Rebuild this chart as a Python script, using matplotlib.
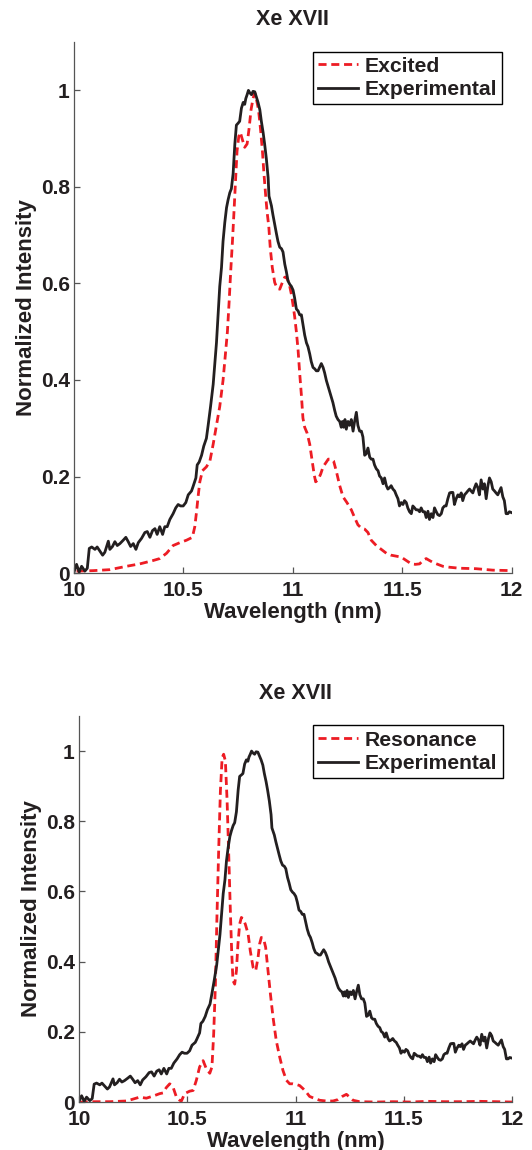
import matplotlib
matplotlib.use('Agg')
import matplotlib.pyplot as plt
import numpy as np

plt.rcParams['font.family'] = ['Liberation Sans', 'DejaVu Sans']
plt.rcParams['font.weight'] = 'bold'
plt.rcParams['axes.labelweight'] = 'bold'
plt.rcParams['axes.titleweight'] = 'bold'

# measured spectrum (same in both panels)
wl_exp = [10.000, 10.012, 10.024, 10.035, 10.050, 10.061, 10.070, 10.081, 10.096, 10.106,
          10.119, 10.131, 10.141, 10.157, 10.164, 10.176, 10.187, 10.198, 10.210, 10.225,
          10.237, 10.248, 10.259, 10.271, 10.283, 10.294, 10.309, 10.324, 10.335, 10.347,
          10.359, 10.370, 10.380, 10.392, 10.405, 10.415, 10.426, 10.438, 10.453, 10.465,
          10.476, 10.487, 10.499, 10.511, 10.522, 10.537, 10.544, 10.557, 10.563, 10.572,
          10.583, 10.593, 10.605, 10.613, 10.624, 10.636, 10.643, 10.651, 10.659, 10.666,
          10.674, 10.681, 10.689, 10.697, 10.704, 10.712, 10.719, 10.727, 10.735, 10.742,
          10.750, 10.757, 10.765, 10.773, 10.780, 10.785, 10.791, 10.797, 10.803, 10.811,
          10.818, 10.826, 10.833, 10.841, 10.849, 10.856, 10.864, 10.871, 10.879, 10.887,
          10.891, 10.902, 10.909, 10.917, 10.925, 10.932, 10.940, 10.948, 10.955, 10.963,
          10.970, 10.978, 10.986, 10.993, 11.001, 11.008, 11.016, 11.024, 11.031, 11.039,
          11.046, 11.054, 11.062, 11.069, 11.077, 11.084, 11.092, 11.100, 11.107, 11.115,
          11.122, 11.130, 11.138, 11.145, 11.153, 11.160, 11.168, 11.176, 11.183, 11.191,
          11.198, 11.206, 11.214, 11.221, 11.226, 11.232, 11.238, 11.244, 11.252, 11.259,
          11.267, 11.275, 11.282, 11.290, 11.297, 11.305, 11.313, 11.320, 11.328, 11.335,
          11.343, 11.351, 11.358, 11.366, 11.373, 11.381, 11.389, 11.396, 11.404, 11.412,
          11.419, 11.427, 11.434, 11.442, 11.449, 11.457, 11.465, 11.472, 11.480, 11.487,
          11.495, 11.503, 11.510, 11.518, 11.525, 11.533, 11.541, 11.548, 11.556, 11.563,
          11.571, 11.579, 11.586, 11.594, 11.602, 11.609, 11.617, 11.624, 11.632, 11.640,
          11.647, 11.655, 11.662, 11.670, 11.678, 11.685, 11.693, 11.700, 11.708, 11.716,
          11.723, 11.731, 11.738, 11.746, 11.754, 11.761, 11.769, 11.776, 11.784, 11.792,
          11.799, 11.807, 11.814, 11.822, 11.830, 11.837, 11.845, 11.852, 11.860, 11.868,
          11.875, 11.883, 11.891, 11.898, 11.906, 11.913, 11.921, 11.928, 11.936, 11.944,
          11.951, 11.959, 11.966, 11.974, 11.982, 11.989, 12.000]
int_exp = [0.002, 0.018, 0.002, 0.014, 0.004, 0.010, 0.051, 0.054, 0.049, 0.054,
           0.045, 0.037, 0.043, 0.066, 0.049, 0.055, 0.065, 0.057, 0.061, 0.068,
           0.074, 0.065, 0.055, 0.061, 0.049, 0.063, 0.072, 0.084, 0.086, 0.074,
           0.088, 0.092, 0.080, 0.096, 0.080, 0.096, 0.096, 0.111, 0.123, 0.135,
           0.142, 0.139, 0.139, 0.146, 0.162, 0.170, 0.179, 0.197, 0.224, 0.230,
           0.244, 0.263, 0.279, 0.306, 0.345, 0.391, 0.430, 0.477, 0.539, 0.594,
           0.633, 0.687, 0.726, 0.757, 0.773, 0.788, 0.796, 0.827, 0.889, 0.928,
           0.932, 0.936, 0.963, 0.975, 0.971, 0.983, 0.991, 1.000, 0.995, 0.991,
           0.998, 0.997, 0.987, 0.975, 0.960, 0.936, 0.913, 0.889, 0.858, 0.819,
           0.781, 0.761, 0.742, 0.722, 0.703, 0.687, 0.675, 0.672, 0.665, 0.640,
           0.625, 0.605, 0.598, 0.594, 0.586, 0.570, 0.547, 0.543, 0.535, 0.535,
           0.516, 0.493, 0.477, 0.469, 0.454, 0.438, 0.426, 0.423, 0.419, 0.419,
           0.426, 0.434, 0.426, 0.415, 0.399, 0.388, 0.376, 0.364, 0.353, 0.337,
           0.325, 0.318, 0.314, 0.302, 0.314, 0.302, 0.318, 0.298, 0.314, 0.306,
           0.318, 0.294, 0.314, 0.333, 0.306, 0.294, 0.294, 0.282, 0.244, 0.247,
           0.259, 0.240, 0.236, 0.236, 0.224, 0.216, 0.212, 0.201, 0.197, 0.185,
           0.197, 0.181, 0.174, 0.177, 0.181, 0.174, 0.170, 0.162, 0.154, 0.139,
           0.146, 0.142, 0.150, 0.146, 0.135, 0.127, 0.123, 0.139, 0.135, 0.131,
           0.131, 0.127, 0.135, 0.127, 0.127, 0.115, 0.128, 0.111, 0.123, 0.115,
           0.135, 0.127, 0.121, 0.119, 0.123, 0.135, 0.139, 0.139, 0.154, 0.166,
           0.167, 0.167, 0.142, 0.154, 0.162, 0.158, 0.166, 0.150, 0.162, 0.166,
           0.170, 0.174, 0.170, 0.166, 0.177, 0.185, 0.177, 0.162, 0.193, 0.174,
           0.185, 0.154, 0.181, 0.197, 0.189, 0.174, 0.170, 0.166, 0.162, 0.170,
           0.177, 0.158, 0.150, 0.123, 0.123, 0.127, 0.125]

# excited-state model
wl_exc = [10.012, 10.088, 10.164, 10.240, 10.301, 10.362, 10.392, 10.423, 10.453, 10.484,
          10.514, 10.541, 10.552, 10.560, 10.567, 10.575, 10.587, 10.605, 10.621, 10.636,
          10.651, 10.666, 10.681, 10.692, 10.701, 10.709, 10.716, 10.724, 10.732, 10.738,
          10.745, 10.753, 10.760, 10.770, 10.780, 10.791, 10.800, 10.809, 10.818, 10.826,
          10.833, 10.843, 10.852, 10.861, 10.868, 10.876, 10.882, 10.890, 10.897, 10.906,
          10.917, 10.928, 10.940, 10.952, 10.963, 10.970, 10.982, 10.993, 11.001, 11.008,
          11.016, 11.024, 11.031, 11.039, 11.046, 11.054, 11.065, 11.077, 11.087, 11.097,
          11.104, 11.115, 11.127, 11.138, 11.150, 11.162, 11.176, 11.186, 11.198, 11.214,
          11.229, 11.247, 11.267, 11.282, 11.297, 11.313, 11.328, 11.343, 11.358, 11.381,
          11.404, 11.427, 11.449, 11.472, 11.495, 11.518, 11.541, 11.560, 11.579, 11.594,
          11.609, 11.624, 11.640, 11.662, 11.685, 11.716, 11.761, 11.837, 11.913, 12.000]
int_exc = [0.004, 0.005, 0.007, 0.014, 0.019, 0.026, 0.030, 0.041, 0.057, 0.063,
           0.068, 0.074, 0.096, 0.127, 0.158, 0.189, 0.212, 0.220, 0.232, 0.267,
           0.306, 0.345, 0.399, 0.454, 0.500, 0.563, 0.625, 0.687, 0.757, 0.812,
           0.874, 0.905, 0.913, 0.897, 0.882, 0.889, 0.921, 0.960, 0.983, 0.995,
           0.983, 0.960, 0.921, 0.874, 0.827, 0.781, 0.749, 0.718, 0.672, 0.633,
           0.602, 0.590, 0.588, 0.602, 0.613, 0.613, 0.602, 0.578, 0.555, 0.532,
           0.500, 0.461, 0.415, 0.368, 0.321, 0.302, 0.290, 0.267, 0.236, 0.205,
           0.189, 0.193, 0.205, 0.220, 0.228, 0.236, 0.236, 0.232, 0.212, 0.181,
           0.158, 0.146, 0.131, 0.115, 0.100, 0.093, 0.091, 0.084, 0.068, 0.057,
           0.049, 0.041, 0.037, 0.035, 0.033, 0.026, 0.019, 0.018, 0.019, 0.026,
           0.030, 0.026, 0.022, 0.018, 0.014, 0.012, 0.010, 0.009, 0.006, 0.005]

# resonance model
wl_res = [10.003, 10.065, 10.142, 10.219, 10.242, 10.280, 10.311, 10.342, 10.373, 10.388,
          10.403, 10.419, 10.434, 10.450, 10.465, 10.473, 10.488, 10.511, 10.527, 10.542,
          10.557, 10.573, 10.588, 10.604, 10.614, 10.622, 10.630, 10.637, 10.645, 10.653,
          10.661, 10.668, 10.676, 10.684, 10.691, 10.699, 10.705, 10.711, 10.719, 10.727,
          10.734, 10.742, 10.750, 10.758, 10.768, 10.781, 10.791, 10.804, 10.816, 10.827,
          10.834, 10.842, 10.853, 10.862, 10.873, 10.884, 10.896, 10.911, 10.927, 10.942,
          10.958, 10.973, 10.988, 11.004, 11.019, 11.035, 11.050, 11.065, 11.081, 11.112,
          11.142, 11.173, 11.196, 11.216, 11.235, 11.250, 11.266, 11.296, 11.373, 11.450,
          11.530, 11.610, 11.690, 11.770, 11.850, 11.930, 12.000]
int_res = [0.000, 0.001, 0.001, 0.003, 0.007, 0.014, 0.011, 0.017, 0.024, 0.026,
           0.041, 0.052, 0.043, 0.014, 0.005, 0.003, 0.024, 0.031, 0.033, 0.062,
           0.100, 0.118, 0.095, 0.082, 0.100, 0.194, 0.336, 0.526, 0.716, 0.886,
           0.981, 0.991, 0.972, 0.858, 0.716, 0.545, 0.431, 0.346, 0.336, 0.374,
           0.450, 0.507, 0.526, 0.521, 0.507, 0.479, 0.431, 0.384, 0.374, 0.412,
           0.450, 0.469, 0.464, 0.441, 0.374, 0.308, 0.242, 0.175, 0.128, 0.090,
           0.062, 0.052, 0.052, 0.050, 0.047, 0.038, 0.028, 0.016, 0.012, 0.005,
           0.003, 0.003, 0.007, 0.016, 0.022, 0.014, 0.005, 0.001, 0.000, 0.001,
           0.000, 0.002, 0.001, 0.001, 0.002, 0.001, 0.000]

xticks = [10, 10.5, 11, 11.5, 12]
xticklabels = ['10', '10.5', '11', '11.5', '12']
yticks = [0, 0.2, 0.4, 0.6, 0.8, 1]
yticklabels = ['0', '0.2', '0.4', '0.6', '0.8', '1']

red = '#ed1c24'
ink = '#231f20'


def panel(ax, wl_model, int_model, model_name):
    ax.plot(wl_model, int_model, color=red, lw=2.0, ls=(0, (2.9, 1.7)), label=model_name)
    ax.plot(wl_exp, int_exp, color=ink, lw=2.0, label='Experimental')
    ax.set_xlim(10, 12)
    ax.set_ylim(0, 1.1)
    ax.set_xticks(xticks)
    ax.set_xticklabels(xticklabels)
    ax.set_yticks(yticks)
    ax.set_yticklabels(yticklabels)
    for s in ['top', 'right']:
        ax.spines[s].set_visible(False)
    for s in ['left', 'bottom']:
        ax.spines[s].set_color('#555555')
        ax.spines[s].set_linewidth(0.9)
    ax.tick_params(direction='in', length=4, width=0.9, color='#555555',
                   labelsize=15, labelcolor=ink)
    ax.tick_params(axis='x', pad=5.5)
    ax.tick_params(axis='y', pad=3)
    ax.set_xlabel('Wavelength (nm)', fontsize=16, color=ink, labelpad=2)
    ax.set_ylabel('Normalized Intensity', fontsize=16, color=ink, labelpad=3)
    ax.set_title('Xe XVII', fontsize=15.5, color=ink, pad=12)
    leg = ax.legend(loc='upper right', fontsize=15.2, fancybox=False, framealpha=1,
                    edgecolor='black', handlelength=1.9, handletextpad=0.3,
                    borderpad=0.25, labelspacing=0.2, borderaxespad=0.45)
    leg.get_frame().set_linewidth(1.0)
    for t in leg.get_texts():
        t.set_color(ink)


fig = plt.figure(figsize=(5.32, 11.5), dpi=100)
ax1 = fig.add_axes([0.139, 0.5017, 0.823, 0.4617])
ax2 = fig.add_axes([0.1485, 0.0417, 0.814, 0.3357])

panel(ax1, wl_exc, int_exc, 'Excited')
panel(ax2, wl_res, int_res, 'Resonance')

fig.savefig('out.png', dpi=100)
